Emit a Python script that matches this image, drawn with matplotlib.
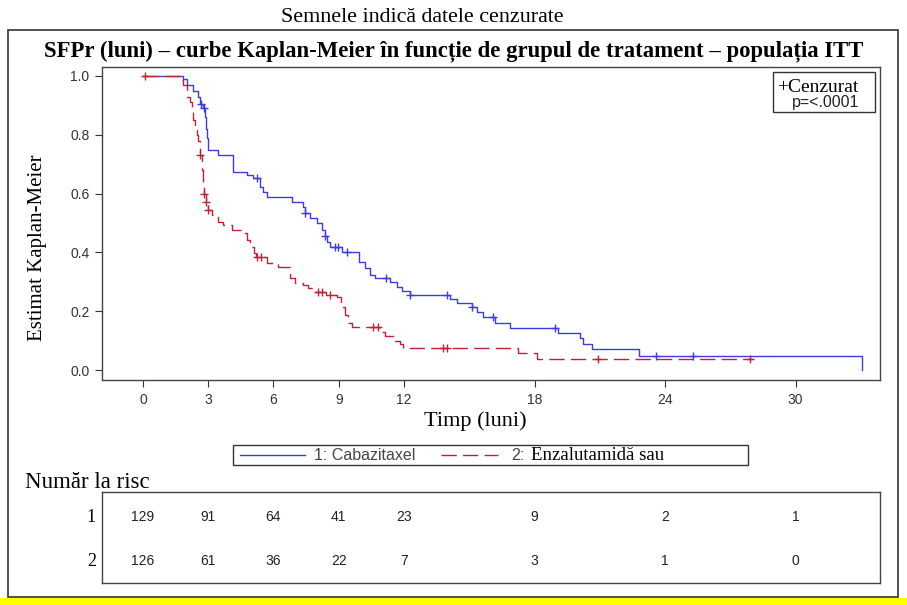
import numpy as np
import matplotlib
matplotlib.use("Agg")
import matplotlib.pyplot as plt
from matplotlib.patches import Rectangle
from matplotlib.lines import Line2D

# ---------------- data ----------------
blue_t = [0.0, 1.84, 2.02, 2.30, 2.53, 2.62, 2.76, 2.85, 2.90, 2.94, 2.99, 3.45, 4.14, 4.78,
          5.06, 5.38, 5.52, 5.70, 6.85, 7.36, 7.45, 7.68, 8.00, 8.23, 8.37, 8.46, 8.60, 9.15,
          9.95, 10.20, 10.44, 10.67, 11.36, 11.68, 11.91, 12.28, 14.11, 14.44, 15.13, 15.36,
          15.63, 16.18, 16.87, 19.08, 20.09, 20.23, 20.64, 22.80, 33.06]
blue_s = [1.0, 0.99, 0.97, 0.95, 0.93, 0.905, 0.89, 0.86, 0.82, 0.79, 0.748, 0.73, 0.673, 0.663,
          0.653, 0.622, 0.605, 0.588, 0.57, 0.554, 0.535, 0.517, 0.50, 0.476, 0.455, 0.435, 0.418, 0.401,
          0.367, 0.347, 0.323, 0.313, 0.299, 0.282, 0.269, 0.255, 0.241, 0.228, 0.214, 0.197,
          0.18, 0.16, 0.143, 0.126, 0.109, 0.088, 0.071, 0.048, 0.0]
blue_cens = [2.67, 2.80, 5.24, 7.45, 8.37, 8.83, 8.97, 9.38, 11.17, 12.28, 13.98, 15.13,
             16.09, 18.94, 23.59, 25.29]

red_t = [0.0, 1.70, 1.85, 2.02, 2.16, 2.25, 2.30, 2.39, 2.48, 2.55, 2.60, 2.62, 2.71, 2.76,
         2.80, 2.88, 2.97, 3.17, 3.45, 3.68, 4.09, 4.55, 4.78, 4.92, 5.10, 5.20, 5.70, 6.21,
         6.76, 6.99, 7.36, 7.59, 7.82, 8.40, 8.92, 9.10, 9.29, 9.43, 9.60, 10.90, 11.13,
         11.49, 11.82, 11.95, 17.24, 18.11, 28.05]
red_s = [1.0, 0.985, 0.97, 0.93, 0.91, 0.88, 0.85, 0.82, 0.80, 0.78, 0.765, 0.731, 0.68, 0.63,
         0.60, 0.571, 0.544, 0.527, 0.503, 0.493, 0.476, 0.466, 0.442, 0.418, 0.398, 0.384, 0.364, 0.35,
         0.313, 0.296, 0.289, 0.279, 0.265, 0.255, 0.248, 0.214, 0.187, 0.16, 0.146, 0.129, 0.116,
         0.099, 0.088, 0.075, 0.058, 0.037, 0.037]
red_cens = [0.10, 2.64, 2.80, 2.90, 2.99, 5.24, 5.42, 8.05, 8.23, 8.60, 10.57, 10.80,
            13.79, 13.98, 20.92, 27.91]

xticks = [0, 3, 6, 9, 12, 18, 24, 30]
yticks = [0.0, 0.2, 0.4, 0.6, 0.8, 1.0]
risk_times = [0, 3, 6, 9, 12, 18, 24, 30]
risk_1 = [129, 91, 64, 41, 23, 9, 2, 1]
risk_2 = [126, 61, 36, 22, 7, 3, 1, 0]

title = "SFPr (luni) – curbe Kaplan-Meier în funcție de grupul de tratament – populația ITT"
top_note = "Semnele indică datele cenzurate"

BLUE = "#3c3ce0"
RED = "#c22036"
SERIF = "Liberation Serif"
SANS = "Liberation Sans"

W, H = 907, 605
fig = plt.figure(figsize=(W / 100, H / 100), dpi=100)


def fbox(x0, y0, x1, y1):
    return [x0 / W, 1 - y1 / H, (x1 - x0) / W, (y1 - y0) / H]


def step_value(t_list, s_list, t):
    idx = np.searchsorted(np.asarray(t_list), t, side="right") - 1
    return np.asarray(s_list)[idx]


# main axes
ax = fig.add_axes(fbox(102, 67, 880, 380))
ax.set_xlim(-1.885, 33.885)
ax.set_ylim(-0.034, 1.0306)
ax.step(blue_t, blue_s, where="post", color=BLUE, lw=1.0)
ax.step(red_t, red_s, where="post", color=RED, lw=1.0, linestyle=(0, (11, 4.5)))
ax.plot(blue_cens, step_value(blue_t, blue_s, blue_cens), "+", color=BLUE, ms=6, mew=1.0)
ax.plot(red_cens, step_value(red_t, red_s, red_cens), "+", color=RED, ms=6, mew=1.0)
ax.set_xticks(xticks)
ax.set_xticklabels([str(v) for v in xticks])
ax.set_yticks(yticks)
ax.set_yticklabels([f"{v:.1f}" for v in yticks])
ax.tick_params(direction="out", length=5, width=0.8, colors="#333333", labelsize=10, pad=4)
for lab in ax.get_xticklabels() + ax.get_yticklabels():
    lab.set_fontfamily(SANS)
for sp in ax.spines.values():
    sp.set_color("#444444")
    sp.set_linewidth(1.0)

# risk table axes
rax = fig.add_axes(fbox(102, 492, 880, 583))
rax.set_xlim(-1.885, 33.885)
rax.set_ylim(0, 1)
rax.set_xticks([])
rax.set_yticks([])
for sp in rax.spines.values():
    sp.set_color("#444444")
    sp.set_linewidth(1.0)
for t, a, b in zip(risk_times, risk_1, risk_2):
    rax.text(t, 0.73, str(a), ha="center", va="center", fontsize=10, fontfamily=SANS, color="#222222")
    rax.text(t, 0.24, str(b), ha="center", va="center", fontsize=10, fontfamily=SANS, color="#222222")

# overlay in pixel coordinates
ov = fig.add_axes([0, 0, 1, 1], zorder=-1)
ov.set_xlim(0, W)
ov.set_ylim(H, 0)
ov.axis("off")
ov.add_patch(Rectangle((0, 598), W, 7, facecolor="#ffff00", edgecolor="none"))
ov.add_patch(Rectangle((8, 30), 890, 567, facecolor="none", edgecolor="#333333", lw=1.2))

top = fig.add_axes([0, 0, 1, 1], zorder=5)
top.set_xlim(0, W)
top.set_ylim(H, 0)
top.axis("off")
top.patch.set_alpha(0)
top.text(422, 18, top_note, ha="center", va="center", fontfamily=SERIF, fontsize=15.8)
top.text(454, 51, title, ha="center", va="center", fontfamily=SERIF, fontsize=16.4, fontweight="bold")
# axis labels
top.text(38, 248, "Estimat Kaplan-Meier", ha="center", va="center", rotation=90,
         fontfamily=SERIF, fontsize=15)
top.text(475, 421, "Timp (luni)", ha="center", va="center", fontfamily=SERIF, fontsize=16)
# inset legend
top.add_patch(Rectangle((773, 72), 102, 40, facecolor="white", edgecolor="#333333", lw=1.0))
top.text(777, 88, "+Cenzurat", ha="left", va="center", fontfamily=SERIF, fontsize=14)
top.text(826, 103, "p=<.0001", ha="center", va="center", fontfamily=SANS, fontsize=11.5, color="#222222")
# bottom legend
top.add_patch(Rectangle((233, 445), 515, 20, facecolor="white", edgecolor="#333333", lw=1.0))
top.add_line(Line2D([240, 305], [455, 455], color=BLUE, lw=1.0))
top.text(314, 455, "1: Cabazitaxel", ha="left", va="center", fontfamily=SANS, fontsize=11.5, color="#444444")
top.add_line(Line2D([441, 498], [455, 455], color=RED, lw=1.0, linestyle=(0, (11, 4.5))))
top.text(511, 455, "2:", ha="left", va="center", fontfamily=SANS, fontsize=11.5, color="#444444")
top.text(531, 455, "Enzalutamidă sau", ha="left", va="center", fontfamily=SERIF, fontsize=13.5)
# risk table labels
top.text(25, 483, "Număr la risc", ha="left", va="center", fontfamily=SERIF, fontsize=16.5)
top.text(96, 517, "1", ha="right", va="center", fontfamily=SERIF, fontsize=13)
top.text(96, 561, "2", ha="right", va="center", fontfamily=SERIF, fontsize=13)

fig.savefig("out.png", dpi=100)
